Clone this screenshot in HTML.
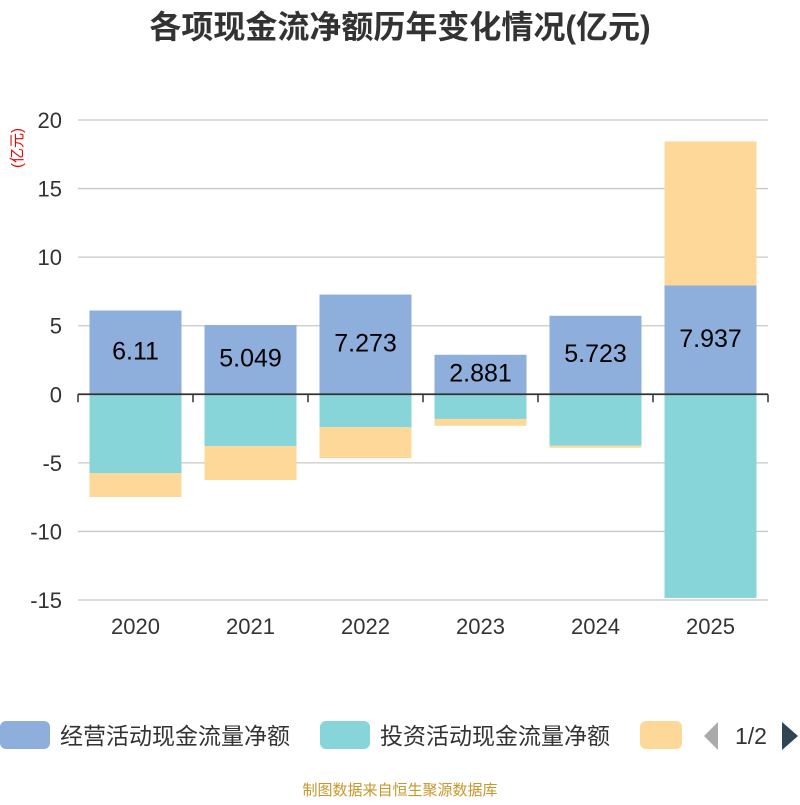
<!DOCTYPE html>
<html><head><meta charset="utf-8"><style>
body{margin:0;background:#fff;width:800px;height:800px;overflow:hidden;font-family:"Liberation Sans","Noto Sans CJK SC",sans-serif}
</style></head><body>
<svg id="c" width="800" height="800" xmlns="http://www.w3.org/2000/svg">
<text x="400" y="38" text-anchor="middle" font-size="32" font-weight="bold" fill="#333" font-family="Liberation Sans,Noto Sans CJK SC,sans-serif">各项现金流净额历年变化情况(亿元)</text>
<text transform="translate(22,148) rotate(-90)" text-anchor="middle" font-size="15" fill="#e00" font-family="Liberation Sans,Noto Sans CJK SC,sans-serif">(亿元)</text>
<g id="grid"></g><g id="bars"></g><g id="axes"></g>
<g font-family="Liberation Sans,Noto Sans CJK SC,sans-serif" font-size="23" fill="#333">
<rect x="0" y="721" width="50" height="28" rx="6" fill="#8eaedb"/>
<text x="60" y="744">经营活动现金流量净额</text>
<rect x="320" y="721" width="50" height="28" rx="6" fill="#88d5d9"/>
<text x="380" y="744">投资活动现金流量净额</text>
<rect x="640" y="721" width="42" height="28" rx="6" fill="#fed899"/>
<polygon points="718,722 718,750 704,736" fill="#aaa"/>
<text x="751" y="744" text-anchor="middle">1/2</text>
<polygon points="782,722 782,750 798,736" fill="#2f4554"/>
</g>
<text x="400" y="795" text-anchor="middle" font-size="15" fill="#c8962a" font-family="Liberation Sans,Noto Sans CJK SC,sans-serif">制图数据来自恒生聚源数据库</text>
</svg>
<script>
const categories=["2020","2021","2022","2023","2024","2025"];
const operating=[6.11,5.049,7.273,2.881,5.723,7.937];
const investing=[-5.74,-3.77,-2.4,-1.8,-3.75,-14.85];
const financing=[-1.75,-2.48,-2.26,-0.5,-0.15,10.5];
const ticks=[20,15,10,5,0,-5,-10,-15];
const NS="http://www.w3.org/2000/svg";
const x0=78,x1=768,yTop=120,yBot=600,vMax=20,vMin=-15;
const y=v=>yTop+(vMax-v)/(vMax-vMin)*(yBot-yTop);
const bw=(x1-x0)/categories.length;
function mk(t,a,p){const e=document.createElementNS(NS,t);for(const k in a)e.setAttribute(k,a[k]);p.appendChild(e);return e;}
const G=document.getElementById('grid'),B=document.getElementById('bars'),A=document.getElementById('axes');
ticks.forEach(t=>{
 if(t!==0){const l=mk('line',{x1:x0,x2:x1,y1:y(t),y2:y(t),stroke:'#c8c8c8','stroke-width':1.3},G);
 
 }
 const tx=mk('text',{x:62,y:y(t)+8,'text-anchor':'end','font-size':22,fill:'#333'},A);tx.textContent=t;
 
 
});
const colors=['#8eaedb','#88d5d9','#fed899'];
categories.forEach((c,i)=>{
 const cx=x0+bw*(i+0.5),bx=cx-46;let pos=0,neg=0;
 [operating[i],investing[i],financing[i]].forEach((v,s)=>{
  let top,bot;
  if(v>=0){top=y(pos+v);bot=y(pos);pos+=v;}else{top=y(neg);bot=y(neg+v);neg+=v;}
  const r=mk('rect',{x:bx,y:top,width:92,height:bot-top,fill:colors[s]},B);
  
  
 });
 const lb=mk('text',{x:cx,y:y(operating[i]/2)+7,'text-anchor':'middle','font-size':25,fill:'#000'},B);lb.textContent=operating[i];
 
 
 const xl=mk('text',{x:cx,y:634,'text-anchor':'middle','font-size':22,fill:'#333'},A);xl.textContent=c;
 
 
 const tk=mk('line',{x1:x0+bw*(i+1),x2:x0+bw*(i+1),y1:y(0),y2:y(0)+8,stroke:'#333','stroke-width':1.5},A);
 
 
});
const ax=mk('line',{x1:x0,x2:x1,y1:y(0),y2:y(0),stroke:'#333','stroke-width':1.8},A);


const ax0=mk('line',{x1:x0,x2:x0,y1:y(0),y2:y(0)+8,stroke:'#333','stroke-width':1.5},A);


</script>
</body></html>
